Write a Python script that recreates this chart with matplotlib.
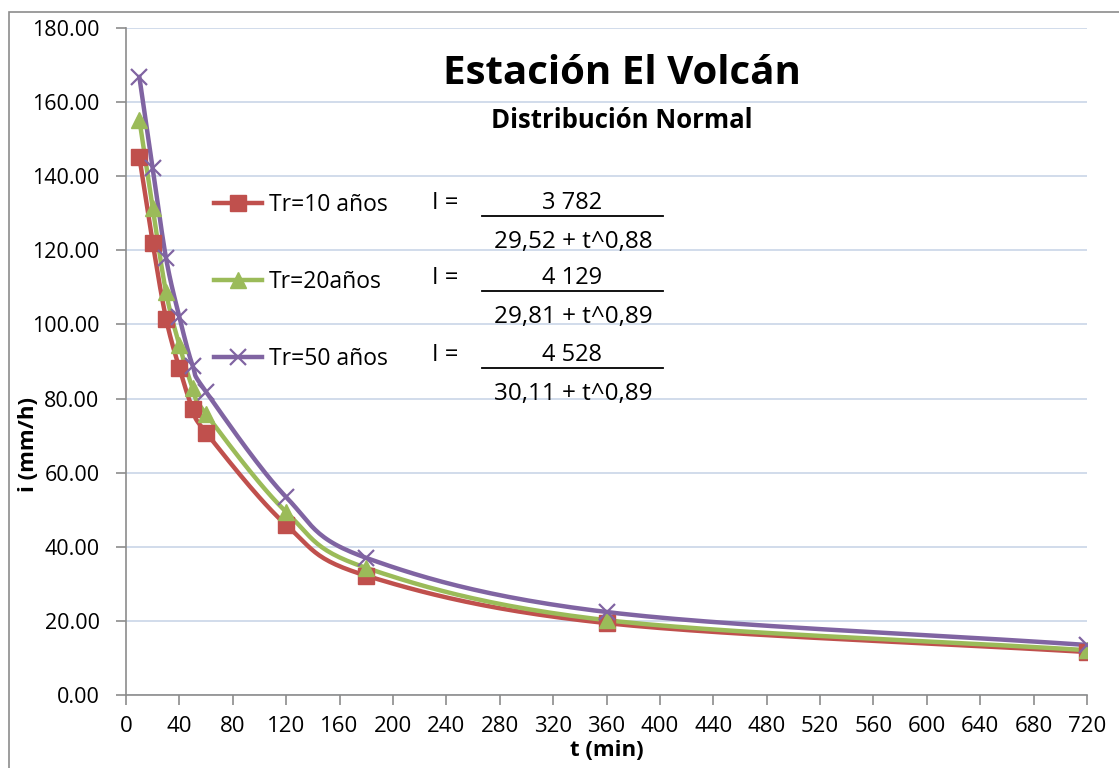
import numpy as np
import matplotlib
matplotlib.use("Agg")
import matplotlib.pyplot as plt
from matplotlib.patches import Rectangle

t_min = [10, 20, 30, 40, 50, 60, 120, 180, 360, 720]
tr10 = [145.2, 122.0, 101.6, 88.2, 77.2, 70.8, 45.9, 32.2, 19.4, 11.6]
tr20 = [155.3, 131.4, 108.7, 94.4, 82.8, 75.8, 49.4, 34.3, 20.2, 12.1]
tr50 = [166.8, 142.2, 117.9, 102.0, 88.8, 81.8, 53.4, 37.0, 22.4, 13.5]
labels = ["Tr=10 años", "Tr=20años", "Tr=50 años"]
numerators = ["3 782", "4 129", "4 528"]
denominators = ["29,52 + t^0,88", "29,81 + t^0,89", "30,11 + t^0,89"]
colors = ["#C0504D", "#9BBB59", "#8064A2"]
markers = ["s", "^", "x"]

FONT = "Open Sans"


def smooth(x, y, n=30):
    # Catmull-Rom style smoothing between data points (like Excel smoothed lines)
    x = np.asarray(x, float)
    y = np.asarray(y, float)
    px = np.concatenate([[2 * x[0] - x[1]], x, [2 * x[-1] - x[-2]]])
    py = np.concatenate([[2 * y[0] - y[1]], y, [2 * y[-1] - y[-2]]])
    xs, ys = [], []
    s = np.linspace(0, 1, n)
    for i in range(1, len(px) - 2):
        p0, p1, p2, p3 = (np.array([px[j], py[j]]) for j in range(i - 1, i + 3))
        m1 = (p2 - p0) / 6.0
        m2 = (p3 - p1) / 6.0
        c1 = p1 + m1
        c2 = p2 - m2
        pts = ((1 - s) ** 3)[:, None] * p1 + (3 * (1 - s) ** 2 * s)[:, None] * c1 \
            + (3 * (1 - s) * s ** 2)[:, None] * c2 + (s ** 3)[:, None] * p2
        xs.append(pts[:, 0])
        ys.append(pts[:, 1])
    return np.concatenate(xs), np.concatenate(ys)


W, H = 1119, 768
fig = plt.figure(figsize=(W / 100, H / 100), dpi=100)
ax = fig.add_axes([126 / W, 1 - 695 / H, (1087 - 126) / W, (695 - 28) / H])

# outer chart border (top and left edges visible)
fig.patches.append(Rectangle((9 / W, -0.05), 1.2, 1 - 12 / H + 0.05,
                             transform=fig.transFigure, fill=False,
                             edgecolor="#8c8c8c", linewidth=1.2))

handles = []
for ys_, c, m, lab in zip([tr10, tr20, tr50], colors, markers, labels):
    sx, sy = smooth(t_min, ys_)
    ax.plot(sx, sy, color=c, linewidth=3.2, zorder=3)
    ms = 11
    mew = 1.6 if m == "x" else 1
    ax.plot(t_min, ys_, linestyle="none", marker=m, color=c, markersize=ms,
            markeredgewidth=mew, zorder=4)
    h, = ax.plot([], [], color=c, linewidth=3.2, marker=m, markersize=ms,
                 markeredgewidth=mew, label=lab)
    handles.append(h)

ax.set_xlim(0, 720)
ax.set_ylim(0, 180)
ax.set_xticks(np.arange(0, 721, 40))
ax.set_yticks(np.arange(0, 181, 20))
ax.set_yticklabels([f"{v:.2f}" for v in np.arange(0, 181, 20)],
                   fontfamily=FONT, fontsize=15.5)
ax.set_xticklabels([str(v) for v in np.arange(0, 721, 40)],
                   fontfamily=FONT, fontsize=16)
ax.grid(axis="y", color="#c9d5e8", linewidth=1.2)
ax.set_axisbelow(True)
for sp in ["top", "right"]:
    ax.spines[sp].set_visible(False)
for sp in ["left", "bottom"]:
    ax.spines[sp].set_color("#8c8c8c")
    ax.spines[sp].set_linewidth(1.2)
ax.tick_params(axis="both", direction="out", color="#8c8c8c", length=7, width=1.2)
ax.tick_params(axis="y", pad=12)
ax.tick_params(axis="x", pad=8)

ax.set_xlabel("t (min)", fontfamily=FONT, fontweight="bold", fontsize=16)
ax.set_ylabel("i (mm/h)", fontfamily=FONT, fontweight="bold", fontsize=16)
ax.xaxis.set_label_coords(0.5, -(750 - 695) / 667)
ax.yaxis.set_label_coords(-(126 - 29) / 961, (695 - 445) / 667)
ax.xaxis.label.set_va("center")
ax.yaxis.label.set_va("center")

fig.text(622 / W, 1 - 73 / H, "Estación El Volcán", fontfamily=FONT,
         fontweight="bold", fontsize=29, ha="center", va="center")
fig.text(622 / W, 1 - 121 / H, "Distribución Normal", fontfamily=FONT,
         fontweight="bold", fontsize=18.5, ha="center", va="center")

leg = ax.legend(handles=handles, loc="upper left",
                bbox_to_anchor=(214 / W, 1 - 193 / H), bbox_transform=fig.transFigure,
                frameon=False, prop={"family": FONT, "size": 16.5},
                handlelength=2.1, handletextpad=0.3, labelspacing=2.32,
                borderpad=0, borderaxespad=0)

row_y = [203, 278, 355]
for ry, num, den in zip(row_y, numerators, denominators):
    fig.text(432 / W, 1 - ry / H, "I =", fontfamily=FONT, fontsize=17,
             ha="left", va="center")
    fig.text(572 / W, 1 - ry / H, num, fontfamily=FONT, fontsize=17,
             ha="center", va="center")
    fig.add_artist(plt.Line2D([482 / W, 663 / W], [1 - (ry + 13) / H] * 2,
                              transform=fig.transFigure, color="black", linewidth=1.3))
    fig.text(573 / W, 1 - (ry + 39) / H, den, fontfamily=FONT, fontsize=17.5,
             ha="center", va="center")

fig.savefig("out.png", dpi=100)
